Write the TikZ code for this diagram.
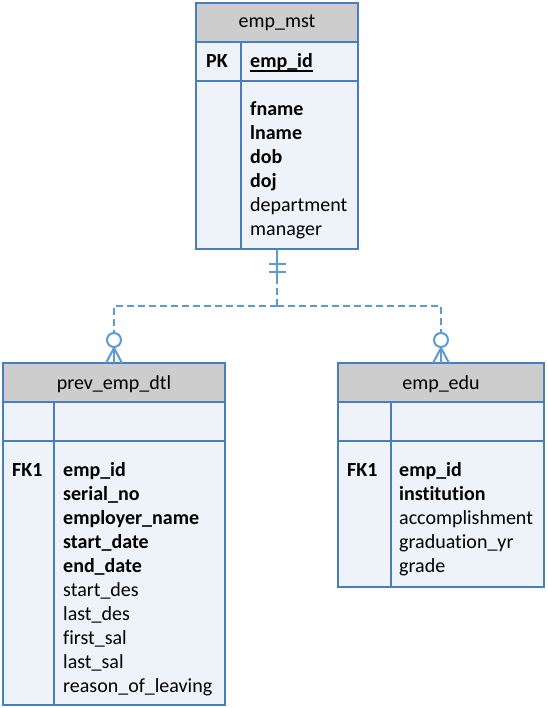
\documentclass[tikz,border=0pt]{standalone}
\usepackage{fontspec}
\setmainfont{Carlito}[Ligatures={NoCommon}]
\definecolor{bord}{RGB}{74,126,187}
\definecolor{conn}{RGB}{91,155,213}
\definecolor{hdrfill}{RGB}{205,205,205}
\definecolor{bodyfill}{RGB}{238,243,250}
\begin{document}
\begin{tikzpicture}[x=1pt,y=-1pt,
  tbl/.style={draw=bord, line width=2pt, fill=bodyfill, rectangle, inner sep=0pt, outer sep=0pt, anchor=north west},
  hdr/.style={tbl, fill=hdrfill},
  sep/.style={draw=bord, line width=2pt},
  txt/.style={anchor=base west, inner sep=0pt, font=\fontsize{20}{24}\selectfont},
  ttl/.style={anchor=base, inner sep=0pt, font=\fontsize{20}{24}\selectfont},
  rel/.style={draw=conn, line width=2pt},
  reld/.style={rel, dash pattern=on 7pt off 4pt},
  crow/.style={circle, draw=conn, fill=white, line width=2pt, minimum size=14pt, inner sep=0pt}
]
\fill[white] (0,0) rectangle (547,708);
\useasboundingbox (0,0) rectangle (547,708);

% ---------- emp_mst ----------
\node[tbl, minimum width=162pt, minimum height=246pt] (mst) at (196,3) {};
\node[hdr, minimum width=162pt, minimum height=39pt] (msth) at (196,3) {};
\draw[sep] (241,42) -- (241,249);
\draw[sep] (196,81) -- (358,81);
\node[ttl] (mstt) at (277,28) {emp\_mst};
\node[txt] (mpk) at (206,68) {\textbf{PK}};
\node[txt] (mid) at (250,68) {\textbf{emp\_id}};
\draw[black, line width=1.5pt] ([yshift=-3pt]mid.base west) -- ([yshift=-3pt]mid.base east);
\node[txt] (m1) at (250,116) {\textbf{fname}};
\node[txt] (m2) at (250,140) {\textbf{lname}};
\node[txt] (m3) at (250,164) {\textbf{dob}};
\node[txt] (m4) at (250,188) {\textbf{doj}};
\node[txt] (m5) at (250,212) {department};
\node[txt] (m6) at (250,236) {manager};

% ---------- prev_emp_dtl ----------
\node[tbl, minimum width=222pt, minimum height=342pt] (prev) at (3,363) {};
\node[hdr, minimum width=222pt, minimum height=39pt] (prevh) at (3,363) {};
\draw[sep] (54,402) -- (54,705);
\draw[sep] (3,441) -- (225,441);
\node[ttl] (prevt) at (114,389) {prev\_emp\_dtl};
\node[txt] (pfk) at (12,476) {\textbf{FK1}};
\node[txt] (p1) at (63,476) {\textbf{emp\_id}};
\node[txt] (p2) at (63,500) {\textbf{serial\_no}};
\node[txt] (p3) at (63,524) {\textbf{employer\_name}};
\node[txt] (p4) at (63,548) {\textbf{start\_date}};
\node[txt] (p5) at (63,572) {\textbf{end\_date}};
\node[txt] (p6) at (63,596) {start\_des};
\node[txt] (p7) at (63,620) {last\_des};
\node[txt] (p8) at (63,644) {first\_sal};
\node[txt] (p9) at (63,668) {last\_sal};
\node[txt] (p10) at (63,692) {reason\_of\_leaving};

% ---------- emp_edu ----------
\node[tbl, minimum width=206pt, minimum height=224pt] (edu) at (338,363) {};
\node[hdr, minimum width=206pt, minimum height=39pt] (eduh) at (338,363) {};
\draw[sep] (391,402) -- (391,587);
\draw[sep] (338,441) -- (544,441);
\node[ttl] (edut) at (441,389) {emp\_edu};
\node[txt] (efk) at (347,476) {\textbf{FK1}};
\node[txt] (e1) at (399,476) {\textbf{emp\_id}};
\node[txt] (e2) at (399,500) {\textbf{institution}};
\node[txt] (e3) at (399,524) {accomplishment};
\node[txt] (e4) at (399,548) {graduation\_yr};
\node[txt] (e5) at (399,572) {grade};

% ---------- relationship ----------
\coordinate (s1) at (277,277);
\coordinate (j) at (277,306);
\node[crow] (lo) at (114,340) {};
\node[crow] (ro) at (441,340) {};
\draw[rel] (mst.south) -- (s1);
\draw[rel] (269,264) -- (286,264);
\draw[rel] (269,272) -- (286,272);
\draw[reld] (s1) -- (j);
\draw[reld] (j) -| (lo.north);
\draw[reld] (j) -| (ro.north);
\draw[rel] (lo.south) -- ([xshift=-8pt]prevh.north);
\draw[rel] (lo.south) -- (prevh.north);
\draw[rel] (lo.south) -- ([xshift=8pt]prevh.north);
\draw[rel] (ro.south) -- ([xshift=-8pt]eduh.north);
\draw[rel] (ro.south) -- (eduh.north);
\draw[rel] (ro.south) -- ([xshift=8pt]eduh.north);
\end{tikzpicture}
\end{document}
